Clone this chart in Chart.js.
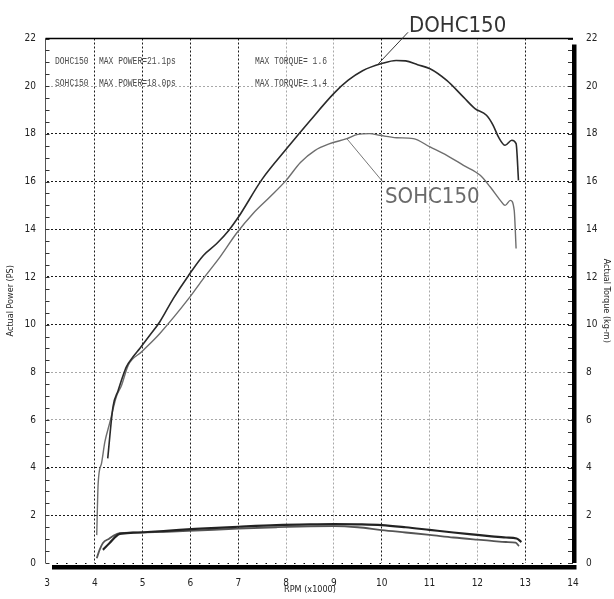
<!DOCTYPE html>
<html>
<head>
<meta charset="utf-8">
<script src="https://cdn.jsdelivr.net/npm/chart.js@4.4.1/dist/chart.umd.min.js"></script>
<style>
  html, body { margin: 0; padding: 0; background: #fff; }
  #wrap { width: 614px; height: 599px; }
</style>
</head>
<body>
<div id="wrap"><canvas id="chart" width="614" height="599"></canvas></div>
<script>
// axis ticks
const rpmTicks = [3, 4, 5, 6, 7, 8, 9, 10, 11, 12, 13, 14];
const powerTicks = [0, 2, 4, 6, 8, 10, 12, 14, 16, 18, 20, 22];
const greyRpm = [8, 9, 11, 12];
const greyPower = [6, 8, 20];

// DOHC150 power (PS)
const dohcPowerRpm = [4.27, 4.38, 4.49, 4.58, 4.66, 4.8, 4.94, 5.15, 5.36, 5.64, 5.95, 6.27, 6.55, 6.8, 7.0, 7.5, 8.0, 8.5, 9.0, 9.3, 9.6, 10.0, 10.3, 10.5, 10.75, 11.01, 11.36, 11.71, 11.95, 12.19, 12.33, 12.44, 12.58, 12.72, 12.81, 12.86];
const dohcPower    = [4.39, 6.55, 7.25, 7.8, 8.23, 8.65, 9.0, 9.55, 10.12, 11.09, 12.03, 12.9, 13.4, 13.95, 14.5, 16.1, 17.35, 18.55, 19.7, 20.25, 20.65, 20.95, 21.08, 21.06, 20.9, 20.73, 20.24, 19.54, 19.06, 18.78, 18.36, 17.87, 17.52, 17.73, 17.59, 16.05];

// SOHC150 power (PS)
const sohcPowerRpm = [4.04, 4.07, 4.14, 4.21, 4.31, 4.45, 4.56, 4.7, 4.98, 5.36, 5.99, 6.27, 6.62, 6.96, 7.31, 7.66, 8.0, 8.3, 8.6, 8.9, 9.27, 9.5, 9.75, 9.96, 10.31, 10.66, 11.01, 11.36, 11.71, 12.06, 12.27, 12.48, 12.58, 12.69, 12.77, 12.81];
const sohcPower    = [1.17, 3.34, 4.18, 5.08, 5.86, 6.97, 7.46, 8.3, 8.86, 9.63, 11.16, 11.93, 12.84, 13.82, 14.66, 15.35, 16.05, 16.8, 17.3, 17.58, 17.8, 17.98, 18.01, 17.94, 17.84, 17.8, 17.45, 17.1, 16.68, 16.26, 15.77, 15.21, 15.0, 15.21, 14.8, 13.19];

// DOHC150 torque (kg-m)
const dohcTorqueRpm = [4.17, 4.31, 4.52, 4.8, 5.5, 6.1, 7.0, 7.8, 8.5, 9.0, 9.5, 10.0, 10.5, 11.0, 11.5, 12.0, 12.3, 12.6, 12.82, 12.92];
const dohcTorque    = [0.55, 0.84, 1.22, 1.27, 1.35, 1.43, 1.52, 1.59, 1.62, 1.63, 1.62, 1.59, 1.5, 1.39, 1.28, 1.18, 1.12, 1.07, 1.03, 0.88];

// SOHC150 torque (kg-m)
const sohcTorqueRpm = [4.04, 4.1, 4.17, 4.3, 4.38, 4.52, 4.8, 5.5, 6.1, 7.0, 7.8, 8.5, 9.0, 9.5, 10.0, 10.5, 11.0, 11.5, 12.0, 12.3, 12.6, 12.8, 12.87];
const sohcTorque    = [0.2, 0.55, 0.84, 1.02, 1.13, 1.25, 1.27, 1.31, 1.36, 1.44, 1.5, 1.54, 1.55, 1.5, 1.38, 1.28, 1.18, 1.07, 0.98, 0.93, 0.88, 0.85, 0.71];

const pts = (xs, ys) => xs.map((x, i) => ({ x: x, y: ys[i] }));

const tickFont = { family: "'Liberation Sans Narrow', 'DejaVu Sans Condensed', sans-serif", size: 10 };
const smallFont = "8px 'Liberation Mono', 'DejaVu Sans Mono', monospace";
const bigFont = "22px 'Liberation Sans Narrow', 'DejaVu Sans Condensed', sans-serif";

const gridColor = (grey, ends) => (ctx) => {
  const v = ctx.tick ? ctx.tick.value : null;
  if (v === null || ends.includes(v)) return 'rgba(0,0,0,0)';
  return grey.includes(v) ? '#a8a8a8' : '#1a1a1a';
};

// tall, narrow note text like the dyno printout
const note = (ctx, text, px, py) => {
  ctx.save();
  ctx.translate(px, py);
  ctx.scale(1, 1.3);
  ctx.fillText(text, 0, 0);
  ctx.restore();
};

const frame = {
  id: 'frame',
  afterDraw(chart) {
    const { ctx, chartArea: a, scales: { x, y } } = chart;
    ctx.save();
    // left axis with minor ticks
    ctx.strokeStyle = '#555';
    ctx.lineWidth = 1;
    ctx.beginPath();
    ctx.moveTo(a.left - 1.5, a.top);
    ctx.lineTo(a.left - 1.5, a.bottom);
    ctx.stroke();
    for (let i = 0; i <= 44; i++) {
      const py = Math.round(y.getPixelForValue(i / 2)) + 0.5;
      ctx.strokeStyle = '#333';
      ctx.beginPath();
      ctx.moveTo(a.left - 1.5, py);
      ctx.lineTo(a.left + 2.5, py);
      ctx.moveTo(a.right - 5, py);
      ctx.lineTo(a.right, py);
      ctx.stroke();
    }
    // top line
    ctx.strokeStyle = '#000';
    ctx.lineWidth = 1.5;
    ctx.beginPath();
    ctx.moveTo(a.left - 1.5, a.top);
    ctx.lineTo(a.right, a.top);
    ctx.stroke();
    // heavy right and bottom bars
    ctx.fillStyle = '#000';
    ctx.fillRect(a.right - 1, a.top + 6, 4.5, a.bottom - a.top - 6);
    ctx.fillRect(a.left + 5, a.bottom + 2, a.right + 3.5 - a.left - 5, 4.5);

    // info texts
    ctx.font = smallFont;
    ctx.fillStyle = '#4a4a4a';
    ctx.textBaseline = 'middle';
    ctx.textAlign = 'left';
    note(ctx, 'DOHC150', 55, 61);
    note(ctx, 'MAX POWER=21.1ps', 99, 61);
    note(ctx, 'SOHC150', 55, 83);
    note(ctx, 'MAX POWER=18.0ps', 99, 83);
    note(ctx, 'MAX TORQUE= 1.6', 255, 61);
    note(ctx, 'MAX TORQUE= 1.4', 255, 83);

    // leader lines + big labels
    ctx.lineWidth = 1;
    ctx.strokeStyle = '#333';
    ctx.beginPath();
    ctx.moveTo(x.getPixelForValue(10.55), y.getPixelForValue(22.26));
    ctx.lineTo(x.getPixelForValue(9.93), y.getPixelForValue(20.94));
    ctx.stroke();
    ctx.strokeStyle = '#777';
    ctx.beginPath();
    ctx.moveTo(x.getPixelForValue(10.03), y.getPixelForValue(15.97));
    ctx.lineTo(x.getPixelForValue(9.27), y.getPixelForValue(17.8));
    ctx.stroke();

    ctx.font = bigFont;
    ctx.textBaseline = 'alphabetic';
    ctx.fillStyle = '#333';
    ctx.fillText('DOHC150', 409, 32);
    ctx.fillStyle = '#6a6a6a';
    ctx.fillText('SOHC150', 385, 203);
    ctx.restore();
  }
};

new Chart(document.getElementById('chart'), {
  type: 'line',
  data: {
    datasets: [
      { label: 'DOHC150 power', data: pts(dohcPowerRpm, dohcPower), yAxisID: 'y', borderColor: '#2a2a2a', borderWidth: 1.6 },
      { label: 'SOHC150 power', data: pts(sohcPowerRpm, sohcPower), yAxisID: 'y', borderColor: '#6e6e6e', borderWidth: 1.4 },
      { label: 'DOHC150 torque', data: pts(dohcTorqueRpm, dohcTorque), yAxisID: 'y2', borderColor: '#222', borderWidth: 2.2 },
      { label: 'SOHC150 torque', data: pts(sohcTorqueRpm, sohcTorque), yAxisID: 'y2', borderColor: '#555', borderWidth: 1.8 }
    ]
  },
  options: {
    responsive: false,
    animation: false,
    events: [],
    layout: { padding: { top: 38.5, left: 0, right: 0, bottom: 0 } },
    elements: {
      point: { radius: 0 },
      line: { cubicInterpolationMode: 'monotone', fill: false }
    },
    plugins: { legend: { display: false }, tooltip: { enabled: false } },
    scales: {
      x: {
        type: 'linear', min: 3, max: 14,
        afterBuildTicks: (s) => { s.ticks = rpmTicks.map((v) => ({ value: v })); },
        afterFit: (s) => { s.height = 36; },
        ticks: { font: tickFont, color: '#222', padding: 14, maxRotation: 0 },
        grid: { color: gridColor(greyRpm, [3, 14]), lineWidth: 1, drawTicks: false },
        border: { display: false, dash: (c) => [2, 2] },
        title: { display: true, text: 'RPM (x1000)', font: { family: tickFont.family, size: 9 }, color: '#222', padding: { top: 0, bottom: 4 } }
      },
      y: {
        position: 'left', min: 0, max: 22,
        afterBuildTicks: (s) => { s.ticks = powerTicks.map((v) => ({ value: v })); },
        afterFit: (s) => { s.width = 47; },
        ticks: { font: tickFont, color: '#222', padding: 11 },
        grid: { color: (c) => (c.tick && c.tick.value === 0 ? '#000' : gridColor(greyPower, [22])(c)), lineWidth: 1, drawTicks: false },
        border: { display: false, dash: (c) => (c.tick && c.tick.value === 0 ? [1.5, 8] : [2, 2]) },
        title: { display: true, text: 'Actual Power (PS)', font: { family: tickFont.family, size: 9 }, color: '#222', padding: { top: 5, bottom: 0 } }
      },
      y2: {
        position: 'right', min: 0, max: 22,
        afterBuildTicks: (s) => { s.ticks = powerTicks.map((v) => ({ value: v })); },
        afterFit: (s) => { s.width = 41; },
        ticks: { font: tickFont, color: '#222', padding: 13 },
        grid: { display: false, drawTicks: false },
        border: { display: false },
        title: { display: true, text: 'Actual Torque (kg-m)', font: { family: tickFont.family, size: 9 }, color: '#222', padding: { top: 2, bottom: 0 } }
      }
    }
  },
  plugins: [frame]
});
</script>
</body>
</html>
